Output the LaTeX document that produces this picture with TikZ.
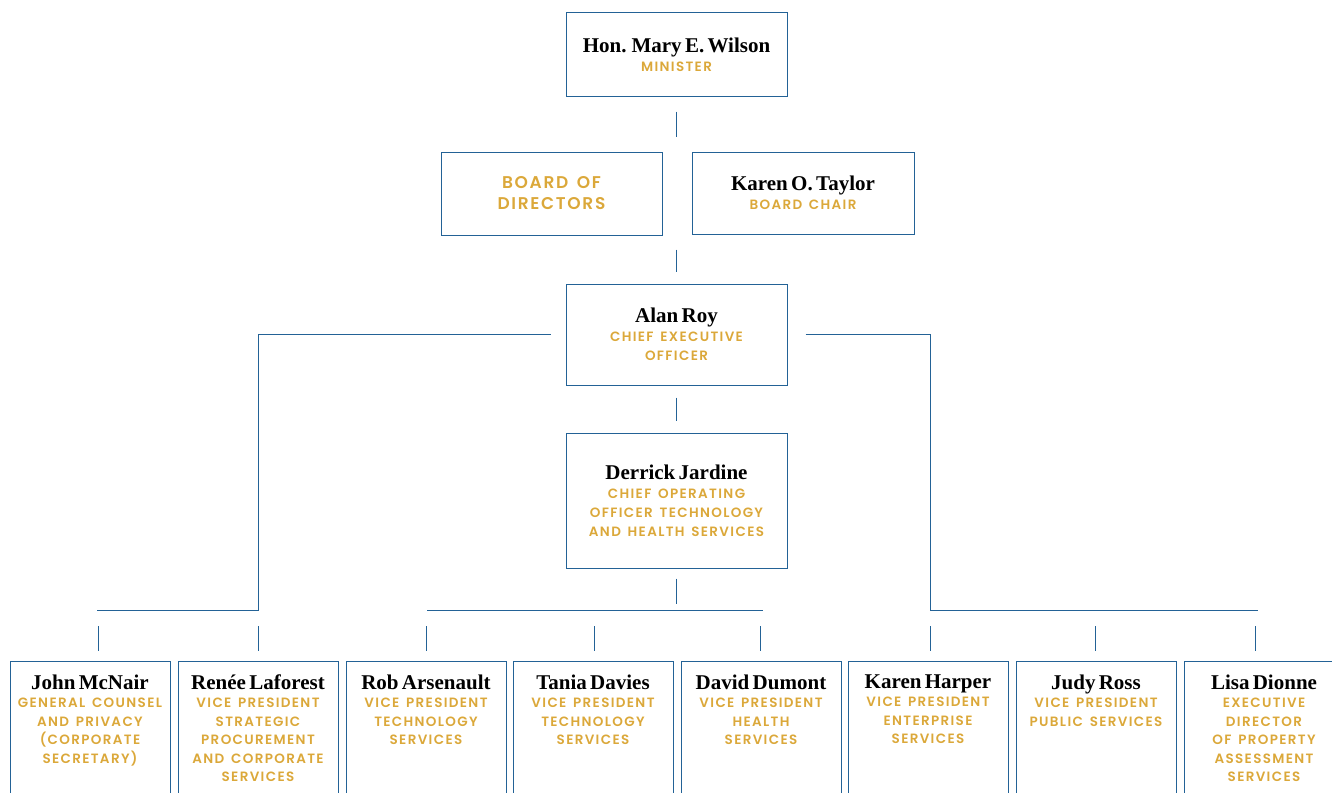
\documentclass[tikz,border=0pt]{standalone}
\usepackage{fontspec}
\usetikzlibrary{calc}
\newfontfamily\namefont{Liberation Serif}
\newfontfamily\rolefont{Poppins SemiBold}[LetterSpace=10]
\definecolor{orgblue}{RGB}{35,98,150}
\definecolor{orggold}{RGB}{219,168,58}

\newcommand{\pname}[1]{{\namefont\bfseries\fontsize{21}{22}\selectfont #1\par}}
\newcommand{\prole}[1]{{\rolefont\fontsize{13.5}{19}\selectfont\spaceskip=.5em\relax\color{orggold}#1\par}}
\newcommand{\lrole}[1]{{\rolefont\fontsize{13.5}{18.5}\selectfont\spaceskip=.5em\relax\color{orggold}#1\par}}

\tikzset{every picture/.style={line width=1pt}}
\tikzset{
  headbox/.style={draw=orgblue, minimum width=221pt, text width=214pt, inner sep=0pt, align=center},
  leafbox/.style={draw=orgblue, minimum width=160pt, minimum height=170pt, anchor=north},
  leaftext/.style={anchor=north, text width=158pt, inner sep=0pt, align=center},
  link/.style={draw=orgblue, line width=1pt},
}

\begin{document}
\begin{tikzpicture}[x=1pt,y=1pt,yscale=-1,xscale=1]
\clip (0,0) rectangle (1332,792);

%Shape: Rectangle [minister]
\node[headbox, minimum height=83pt] (minister) at (676.5,54.5)
  {\pname{Hon. Mary E. Wilson}\prole{MINISTER}};
%Shape: Rectangle [board]
\node[headbox, minimum height=83pt] (board) at (551.5,193.5)
  {{\rolefont\fontsize{17}{21}\selectfont\spaceskip=.5em\relax\color{orggold}BOARD OF\\DIRECTORS\par}};
%Shape: Rectangle [chair]
\node[headbox, minimum width=222pt, minimum height=82pt] (chair) at (803,193)
  {\pname{Karen O. Taylor}\prole{BOARD CHAIR}};
%Shape: Rectangle [ceo]
\node[headbox, minimum height=101pt] (ceo) at (676.5,334.5)
  {\pname{Alan Roy}\prole{CHIEF EXECUTIVE\\OFFICER}};
%Shape: Rectangle [coo]
\node[headbox, minimum height=135pt] (coo) at (676.5,500.5)
  {\pname{Derrick Jardine}\prole{CHIEF OPERATING\\OFFICER TECHNOLOGY\\AND HEALTH SERVICES}\vspace{8pt}};

%Bottom row
\foreach \nm/\cx/\txt in {
  mcnair/90/{\pname{John McNair}\lrole{GENERAL COUNSEL\\AND PRIVACY\\(CORPORATE\\SECRETARY)}},
  laforest/258/{\pname{Renée Laforest}\lrole{VICE PRESIDENT\\STRATEGIC\\PROCUREMENT\\AND CORPORATE\\SERVICES}},
  arsenault/426/{\pname{Rob Arsenault}\lrole{VICE PRESIDENT\\TECHNOLOGY\\SERVICES}},
  davies/593/{\pname{Tania Davies}\lrole{VICE PRESIDENT\\TECHNOLOGY\\SERVICES}},
  dumont/761/{\pname{David Dumont}\lrole{VICE PRESIDENT\\HEALTH\\SERVICES}},
  harper/928/{\pname{Karen Harper}\lrole{VICE PRESIDENT\\ENTERPRISE\\SERVICES}},
  ross/1096/{\pname{Judy Ross}\lrole{VICE PRESIDENT\\PUBLIC SERVICES}},
  dionne/1264/{\pname{Lisa Dionne}\lrole{EXECUTIVE\\DIRECTOR\\OF PROPERTY\\ASSESSMENT\\SERVICES}}}
{
  \node[leafbox] (\nm) at (\cx,661) {};
  \node[leaftext] (\nm-t) at ($(\nm.north)+(0,13)$) {\txt};
}

%Straight Lines [minister to ceo]
\draw[link] ($(minister.south)+(0,15)$) -- ($(minister.south)+(0,40)$);
\draw[link] ($(ceo.north)+(0,-34)$) -- ($(ceo.north)+(0,-12)$);
%Straight Lines [ceo to coo]
\draw[link] ($(ceo.south)+(0,12)$) -- ($(coo.north)+(0,-12)$);
%Straight Lines [coo to vp row]
\coordinate (mleft) at (427,610);
\coordinate (mright) at (763,610);
\draw[link] ($(coo.south)+(0,10)$) -- ($(coo.south)+(0,35)$);
\draw[link] (mleft) -- (mright);
%Straight Lines [ceo to left branch]
\coordinate (lbranch) at (258,610);
\coordinate (lend) at (97,610);
\draw[link] ($(ceo.west)+(-15,0)$) -| (lbranch) -- (lend);
%Straight Lines [ceo to right branch]
\coordinate (rbranch) at (930,610);
\coordinate (rend) at (1258,610);
\draw[link] ($(ceo.east)+(18,0)$) -| (rbranch) -- (rend);
%Straight Lines [stubs]
\foreach \nm/\dx in {mcnair/8, laforest/0, arsenault/0, davies/1, dumont/-1, harper/2, ross/-1, dionne/-9}
  \draw[link] ($(\nm.north)+(\dx,-35)$) -- ($(\nm.north)+(\dx,-10)$);
\end{tikzpicture}
\end{document}
